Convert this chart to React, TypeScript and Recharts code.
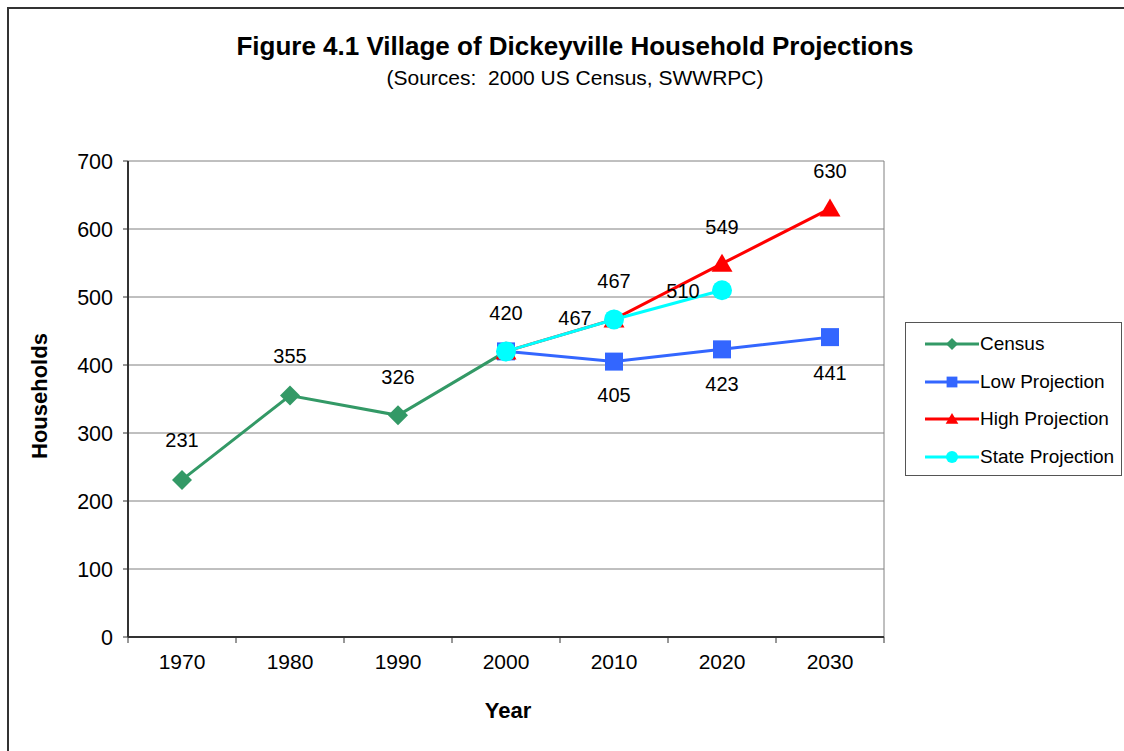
import { LineChart, Line, XAxis, YAxis, CartesianGrid, LabelList } from 'recharts'

const years = ['1970', '1980', '1990', '2000', '2010', '2020', '2030']
const census = [231, 355, 326, 420, null, null, null]
const lowProjection = [null, null, null, 420, 405, 423, 441]
const highProjection = [null, null, null, 420, 467, 549, 630]
const stateProjection = [null, null, null, 420, 467, 510, null]
const yTicks = [0, 100, 200, 300, 400, 500, 600, 700]

const data = years.map((year, i) => ({
  year,
  census: census[i],
  low: lowProjection[i],
  high: highProjection[i],
  state: stateProjection[i],
}))

const FONT = '"Liberation Sans", Arial, sans-serif'

// where each data label sits relative to its point (null = hidden)
const censusLabels = [[0, -40], [0, -40], [0, -38], null, null, null, null]
const lowLabels = [null, null, null, null, [0, 33], [0, 35], [0, 36]]
const highLabels = [null, null, null, null, [-39, -1], [0, -37], [0, -38]]
const stateLabels = [null, null, null, [0, -38], [0, -38], [-39, 1], null]

const series = [
  { key: 'census', name: 'Census', color: '#339966', shape: 'diamond', labels: censusLabels },
  { key: 'low', name: 'Low Projection', color: '#3366FF', shape: 'square', labels: lowLabels },
  { key: 'high', name: 'High Projection', color: '#FF0000', shape: 'triangle', labels: highLabels },
  { key: 'state', name: 'State Projection', color: '#00FFFF', shape: 'circle', labels: stateLabels },
]

function marker(shape: string, cx: number, cy: number, s: number, color: string, key?: any) {
  if (shape === 'diamond')
    return <polygon key={key} points={`${cx},${cy - s} ${cx + s},${cy} ${cx},${cy + s} ${cx - s},${cy}`} fill={color} />
  if (shape === 'square')
    return <rect key={key} x={cx - s * 0.9} y={cy - s * 0.9} width={s * 1.8} height={s * 1.8} fill={color} />
  if (shape === 'triangle')
    return <polygon key={key} points={`${cx},${cy - s} ${cx + s * 1.05},${cy + s * 0.8} ${cx - s * 1.05},${cy + s * 0.8}`} fill={color} />
  return <circle key={key} cx={cx} cy={cy} r={s} fill={color} />
}

function makeDot(shape: string, color: string, size: number) {
  return (props: any) => {
    const { cx, cy, value, index } = props
    if (value == null || cy == null) return <g key={`d${index}`} />
    return marker(shape, cx, cy, size, color, `d${index}`)
  }
}

function makeLabel(offsets: any[]) {
  return (props: any) => {
    const { x, y, value, index } = props
    const off = offsets[index]
    if (!off || value == null) return null
    return (
      <text x={x + off[0]} y={y + off[1]} textAnchor="middle" dominantBaseline="central"
        fontSize={20} fontFamily={FONT} fill="#000">
        {value}
      </text>
    )
  }
}

const XTick = (props: any) => {
  const { x, y, payload, index } = props
  const half = 54
  return (
    <g>
      <line x1={x - half} y1={y - 8} x2={x - half} y2={y - 2} stroke="#333" strokeWidth={1} />
      {index === years.length - 1 && (
        <line x1={x + half} y1={y - 8} x2={x + half} y2={y - 2} stroke="#333" strokeWidth={1} />
      )}
      <text x={x} y={y + 24} textAnchor="middle" fontSize={21} fontFamily={FONT} fill="#000">
        {payload.value}
      </text>
    </g>
  )
}

export default function App() {
  return (
    <div style={{ position: 'absolute', left: 0, top: 0, width: 1124, height: 751, overflow: 'hidden', background: '#fff', fontFamily: FONT }}>
      <div style={{ position: 'absolute', left: 7, top: 7, width: 1140, height: 780, border: '2px solid #333' }} />
      <div style={{ position: 'absolute', left: 0, width: 1150, top: 31, textAlign: 'center', fontSize: 26, fontWeight: 'bold' }}>
        Figure 4.1 Village of Dickeyville Household Projections
      </div>
      <div style={{ position: 'absolute', left: 0, width: 1150, top: 66, textAlign: 'center', fontSize: 21, whiteSpace: 'pre' }}>
        {'(Sources:  2000 US Census, SWWRPC)'}
      </div>
      <div style={{ position: 'absolute', left: 0, top: 0 }}>
        <LineChart width={1124} height={751} data={data} margin={{ top: 161, right: 240, bottom: 74, left: 68 }}>
          <CartesianGrid vertical={true} horizontal={true} stroke="#808080" strokeWidth={1}
            verticalCoordinatesGenerator={({ offset }: any) => [offset.left + offset.width]} />
          <XAxis dataKey="year" height={40} padding={{ left: 54, right: 54 }} interval={0}
            axisLine={{ stroke: '#333', strokeWidth: 2 }} tickLine={false} tick={<XTick />} />
          <YAxis domain={[0, 700]} ticks={yTicks} width={60} interval={0}
            axisLine={{ stroke: '#333', strokeWidth: 2 }} tickLine={{ stroke: '#333' }} tickSize={5} tickMargin={10}
            tick={{ fontSize: 21.5, fontFamily: FONT, fill: '#000' }}
            label={{ value: 'Households', angle: -90, position: 'insideLeft', dx: -34, dy: 60, fontSize: 22, fontWeight: 'bold', fontFamily: FONT, fill: '#000' }} />
          {series.map((s) => (
            <Line key={s.key} dataKey={s.key} name={s.name} stroke={s.color} strokeWidth={3}
              isAnimationActive={false} dot={makeDot(s.shape, s.color, 10)} activeDot={false}>
              <LabelList dataKey={s.key} content={makeLabel(s.labels)} />
            </Line>
          ))}
        </LineChart>
      </div>
      <div style={{ position: 'absolute', left: 0, width: 1016, top: 698, textAlign: 'center', fontSize: 22, fontWeight: 'bold' }}>
        Year
      </div>
      <div style={{ position: 'absolute', left: 905, top: 322, width: 215, height: 152, border: '1px solid #555', background: '#fff' }}>
        {series.map((s, i) => (
          <div key={s.key} style={{ position: 'absolute', left: 18, top: 9 + i * 37.5, height: 24, display: 'flex', alignItems: 'center' }}>
            <svg width={56} height={24}>
              <line x1={1} y1={12} x2={55} y2={12} stroke={s.color} strokeWidth={3} />
              {marker(s.shape, 28, 12, 6, s.color)}
            </svg>
            <span style={{ fontSize: 19 }}>{s.name}</span>
          </div>
        ))}
      </div>
    </div>
  )
}
